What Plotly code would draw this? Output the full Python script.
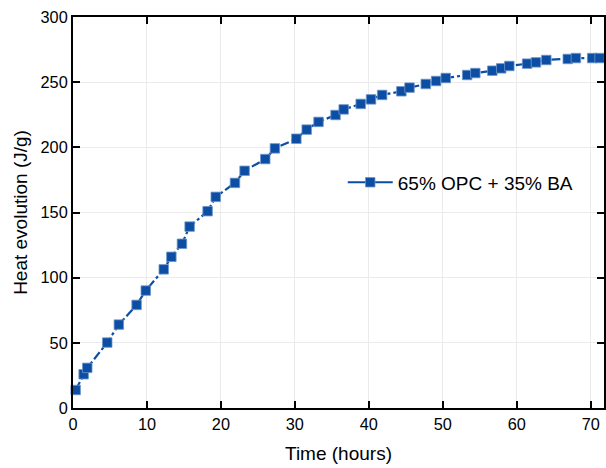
import plotly.graph_objects as go

time_h = [0.36, 1.44, 1.93, 4.63, 6.2, 8.6, 9.84, 12.27, 13.3, 14.73, 15.77, 18.2, 19.3,
          21.9, 23.2, 26.0, 27.3, 30.2, 31.6, 33.2, 35.5, 36.6, 38.9, 40.3, 41.8, 44.4,
          45.5, 47.7, 49.1, 50.4, 53.3, 54.4, 56.7, 57.9, 59.0, 61.4, 62.6, 64.0, 66.9,
          68.0, 70.2, 71.2]
heat = [13.8, 25.9, 30.8, 50.2, 64.0, 79.1, 90.1, 106.4, 116.0, 126.0, 139.2, 151.0, 162.0,
        172.7, 182.0, 191.0, 199.2, 206.6, 213.6, 219.5, 224.8, 229.1, 233.3, 236.8, 240.2, 243.0,
        245.8, 248.6, 250.9, 253.2, 255.5, 257.0, 258.8, 260.6, 262.4, 264.2, 265.2, 267.0, 267.8,
        268.5, 268.5, 268.5]
series_name = "65% OPC + 35% BA"
x_ticks = [0, 10, 20, 30, 40, 50, 60, 70]
y_ticks = [0, 50, 100, 150, 200, 250, 300]

color = "#0c4ea3"
font = "Arial, Liberation Sans, sans-serif"
marker_style = dict(symbol="square", size=9.5, color=color,
                    line=dict(color="#6f95cc", width=0.8))

fig = go.Figure()
fig.add_trace(go.Scatter(
    x=time_h, y=heat, mode="lines+markers", name=series_name, showlegend=False,
    line=dict(color=color, width=2.2, dash="dashdot"),
    marker=marker_style, cliponaxis=False,
))
# legend entry (solid line sample as in the reference legend)
fig.add_trace(go.Scatter(
    x=[None], y=[None], mode="lines+markers", name=series_name, showlegend=True,
    line=dict(color=color, width=2.2), marker=marker_style,
))

axis_common = dict(
    showline=True, linecolor="black", linewidth=2, mirror="allticks",
    ticks="inside", ticklen=7, tickwidth=1.8, tickcolor="black",
    showgrid=True, gridcolor="#ebebeb", gridwidth=1, zeroline=False,
    tickfont=dict(family=font, size=16.3, color="black"),
)

fig.update_layout(
    width=606, height=468,
    margin=dict(l=73, r=0, t=17, b=60),
    paper_bgcolor="white", plot_bgcolor="white",
    font=dict(family=font, color="black"),
    showlegend=True,
    legend=dict(x=0.508, y=0.577, xanchor="left", yanchor="middle",
                bgcolor="rgba(0,0,0,0)", font=dict(family=font, size=19, color="black"),
                itemwidth=45),
    xaxis=dict(range=[0, 71.8], tickvals=x_ticks,
               title=dict(text="Time (hours)", font=dict(family=font, size=19), standoff=15),
               **axis_common),
    yaxis=dict(range=[0, 300], tickvals=y_ticks,
               title=dict(text="Heat evolution (J/g)", font=dict(family=font, size=19), standoff=8),
               **axis_common),
)

fig.write_html("out.html")
